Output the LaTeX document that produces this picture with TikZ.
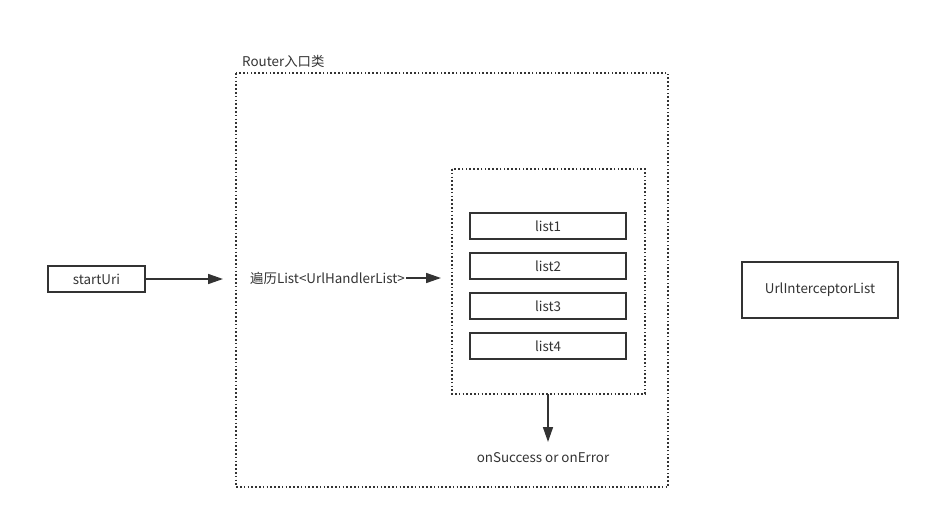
\documentclass[tikz,border=0pt]{standalone}
\usepackage{fontspec}
\setmainfont{Noto Sans CJK SC}
\usetikzlibrary{arrows.meta}
\definecolor{ink}{HTML}{333333}
\tikzset{
  box/.style={draw=ink, line width=1.6pt, inner sep=0pt, text=ink},
  dotbox/.style={draw=ink, line width=1.6pt, dash pattern=on 1.6pt off 2.2pt},
  lbl/.style={text=ink, inner sep=0pt},
  arr/.style={draw=ink, line width=1.6pt, -{Triangle[length=15pt,width=10pt]}},
}
\begin{document}
\begin{tikzpicture}[x=1pt,y=-1pt,font=\fontsize{13.4}{16}\selectfont]
\useasboundingbox (0,0) rectangle (930,519);
% outer Router box
\draw[dotbox] (236,73) rectangle (668,487);
\node[lbl, anchor=west] (routerlbl) at (242,61) {Router入口类};
% inner box
\draw[dotbox] (452,169) rectangle (645,394);
\coordinate (innerbot) at (548,394);
% start
\node[box, minimum width=97pt, minimum height=26pt] (start) at (96.5,279) {startUri};
\coordinate (arrend1) at (223,279);
\draw[arr] (start.east) -- (arrend1);
% iterate text
\node[lbl, anchor=west] (iter) at (250,278) {遍历List<UrlHandlerList>};
\coordinate (arrs2) at (406,278);
\coordinate (arre2) at (441,278);
\draw[arr] (arrs2) -- (arre2);
% lists
\node[box, minimum width=156pt, minimum height=26pt] (l1) at (548,226) {list1};
\node[box, minimum width=156pt, minimum height=26pt] (l2) at (548,266) {list2};
\node[box, minimum width=156pt, minimum height=26pt] (l3) at (548,306) {list3};
\node[box, minimum width=156pt, minimum height=26pt] (l4) at (548,346) {list4};
% result
\node[lbl] (res) at (543,458) {onSuccess or onError};
\coordinate (arre3) at (548,442);
\draw[arr] (innerbot) -- (arre3);
% interceptor
\node[box, minimum width=156pt, minimum height=56pt] (icpt) at (820,290) {UrlInterceptorList};
\end{tikzpicture}
\end{document}
